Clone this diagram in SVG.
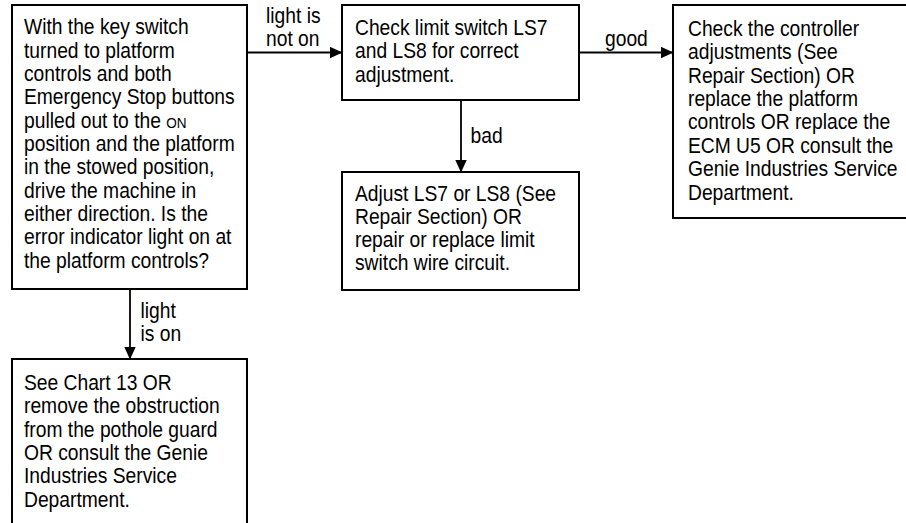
<svg xmlns="http://www.w3.org/2000/svg" width="906" height="523" viewBox="0 0 906 523">
<style>
.box{fill:#fff;stroke:#000;stroke-width:2}
.ln{fill:none;stroke:#000;stroke-width:1.8}
.t{font-family:"Liberation Sans",Arial,Helvetica,sans-serif;font-size:22px;fill:#000}
.sc{font-size:15.5px}
</style>
<defs>
<marker id="ah" markerUnits="userSpaceOnUse" markerWidth="14" markerHeight="12" refX="12" refY="6" orient="auto">
<path d="M0,0.3 L12.5,6 L0,11.7 Z" fill="#000"/>
</marker>
</defs>
<rect width="906" height="523" fill="#fff"/>
<g id="connectors">
<line class="ln" x1="247" y1="52.5" x2="342" y2="52.5" marker-end="url(#ah)"/>
<line class="ln" x1="579" y1="52.5" x2="673" y2="52.5" marker-end="url(#ah)"/>
<line class="ln" x1="461" y1="100" x2="461" y2="172" marker-end="url(#ah)"/>
<line class="ln" x1="130" y1="289" x2="130" y2="359" marker-end="url(#ah)"/>
<text class="t" transform="translate(266,22.7) scale(0.875,1)"><tspan x="0" y="0">light is</tspan><tspan x="0" y="23.3">not on</tspan></text>
<text class="t" transform="translate(605,45.5) scale(0.875,1)">good</text>
<text class="t" transform="translate(470.5,143.3) scale(0.875,1)">bad</text>
<text class="t" transform="translate(140.5,317.5) scale(0.875,1)"><tspan x="0" y="0">light</tspan><tspan x="0" y="23.3">is on</tspan></text>
</g>
<g id="n1">
<rect class="box" x="12" y="5" width="235" height="284"/>
<text class="t" transform="translate(24,34.4) scale(0.875,1)">
<tspan x="0" y="0">With the key switch</tspan>
<tspan x="0" y="23.33">turned to platform</tspan>
<tspan x="0" y="46.66">controls and both</tspan>
<tspan x="0" y="70">Emergency Stop buttons</tspan>
<tspan x="0" y="93.33">pulled out to the <tspan class="sc">ON</tspan></tspan>
<tspan x="0" y="116.66">position and the platform</tspan>
<tspan x="0" y="140">in the stowed position,</tspan>
<tspan x="0" y="163.33">drive the machine in</tspan>
<tspan x="0" y="186.66">either direction. Is the</tspan>
<tspan x="0" y="210">error indicator light on at</tspan>
<tspan x="0" y="233.33">the platform controls?</tspan>
</text>
</g>
<g id="n2">
<rect class="box" x="342" y="5" width="237" height="95"/>
<text class="t" transform="translate(355,35) scale(0.875,1)">
<tspan x="0" y="0">Check limit switch LS7</tspan>
<tspan x="0" y="23.33">and LS8 for correct</tspan>
<tspan x="0" y="46.66">adjustment.</tspan>
</text>
</g>
<g id="n3">
<rect class="box" x="342" y="172" width="237" height="118"/>
<text class="t" transform="translate(355,200.5) scale(0.875,1)">
<tspan x="0" y="0">Adjust LS7 or LS8 (See</tspan>
<tspan x="0" y="23.33">Repair Section) OR</tspan>
<tspan x="0" y="46.66">repair or replace limit</tspan>
<tspan x="0" y="70">switch wire circuit.</tspan>
</text>
</g>
<g id="n4">
<rect class="box" x="673" y="5" width="250" height="213"/>
<text class="t" transform="translate(688,35.7) scale(0.875,1)">
<tspan x="0" y="0">Check the controller</tspan>
<tspan x="0" y="23.45">adjustments (See</tspan>
<tspan x="0" y="46.9">Repair Section) OR</tspan>
<tspan x="0" y="70.35">replace the platform</tspan>
<tspan x="0" y="93.8">controls OR replace the</tspan>
<tspan x="0" y="117.25">ECM U5 OR consult the</tspan>
<tspan x="0" y="140.7">Genie Industries Service</tspan>
<tspan x="0" y="164.15">Department.</tspan>
</text>
</g>
<g id="n5">
<rect class="box" x="12" y="359" width="235" height="180"/>
<text class="t" transform="translate(24,390) scale(0.875,1)">
<tspan x="0" y="0">See Chart 13 OR</tspan>
<tspan x="0" y="23.33">remove the obstruction</tspan>
<tspan x="0" y="46.66">from the pothole guard</tspan>
<tspan x="0" y="70">OR consult the Genie</tspan>
<tspan x="0" y="93.33">Industries Service</tspan>
<tspan x="0" y="116.66">Department.</tspan>
</text>
</g>
</svg>
